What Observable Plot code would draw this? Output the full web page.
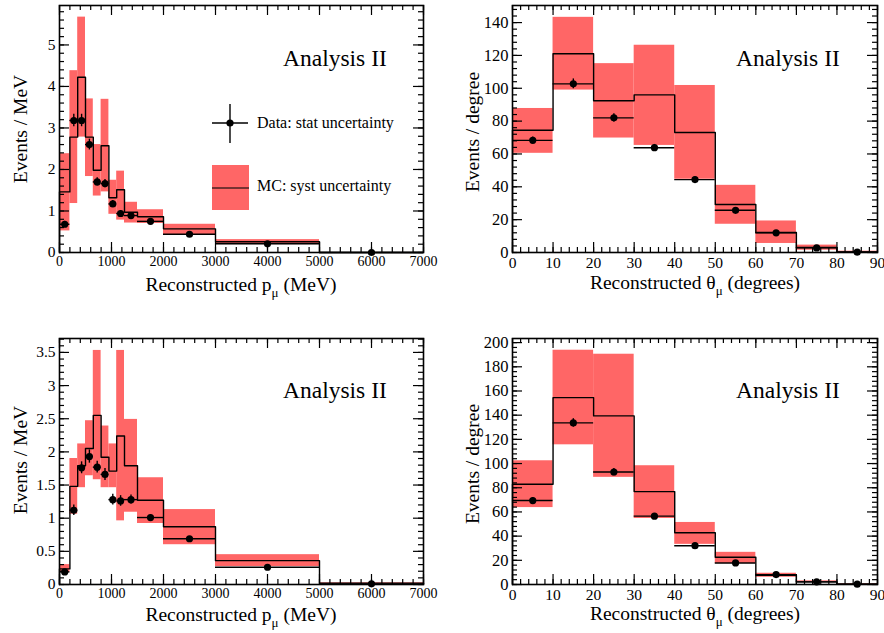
<!DOCTYPE html>
<html><head><meta charset="utf-8">
<script src="https://cdn.jsdelivr.net/npm/d3@7"></script>
<script src="https://cdn.jsdelivr.net/npm/@observablehq/plot@0.6"></script>
<style>
body{margin:0;background:#fff;}
#wrap{position:relative;width:884px;height:633px;font-family:'Liberation Serif','Times New Roman',serif;overflow:hidden;}
#wrap svg, #wrap text, #wrap tspan{font-family:'Liberation Serif','Times New Roman',serif !important;}
.panel{position:absolute;}
#over{position:absolute;left:0;top:0;}
</style></head>
<body><div id="wrap"></div>
<script>
// ---------- data ----------
const pEdges = [0,200,350,500,650,800,950,1100,1250,1500,2000,3000,5000,7000];
const p1MC   = [1.46,2.78,4.22,2.78,1.98,2.57,1.32,1.51,0.97,0.86,0.57,0.26,0];
const p1Lo   = [0.52,1.18,2.78,1.83,1.36,1.46,0.92,0.78,0.71,0.70,0.43,0.19,0];
const p1Hi   = [2.38,4.38,5.67,3.70,2.60,3.69,1.74,1.96,1.21,1.03,0.68,0.31,0];
const p1Data = [0.68,3.18,3.18,2.60,1.70,1.66,1.17,0.94,0.89,0.75,0.44,0.21,0];
const p1Err  = [0.07,0.15,0.15,0.13,0.10,0.10,0.08,0.07,0.05,0.04,0.02,0.01,0.005];

const p2MC   = [0.235,1.48,1.79,2.05,2.55,1.92,1.71,2.24,1.79,1.27,0.87,0.36,0.02];
const p2Lo   = [0.18,1.06,1.46,1.64,1.58,1.46,1.46,0.96,1.09,0.92,0.60,0.27,0.01];
const p2Hi   = [0.30,1.90,2.12,2.47,3.53,2.39,2.12,3.53,2.49,1.61,1.13,0.45,0.025];
const p2Data = [0.19,1.12,1.76,1.93,1.77,1.66,1.28,1.26,1.28,1.01,0.69,0.26,0.01];
const p2Err  = [0.03,0.08,0.09,0.10,0.09,0.09,0.08,0.08,0.07,0.04,0.025,0.01,0.005];

const tEdges = [0,10,20,30,40,50,60,70,80,90];
const t1MC   = [74.4,121,92.4,96,73.1,29.2,12.2,3.0,0.4];
const t1Lo   = [60.4,98.9,69.7,65.2,44.6,17.2,5.5,1.4,0];
const t1Hi   = [87.7,143.2,115,126.2,101.7,40.9,19.2,4.5,0.8];
const t1Data = [68.3,102.7,82,63.8,44.4,25.7,12,2.8,0.2];
const t1Err  = [2,3,2.5,2,1.6,1.2,0.8,0.4,0.1];

const t2MC   = [82.9,154.5,139.4,76.8,42.8,22.5,7.7,2.2,0.3];
const t2Lo   = [63.6,115.5,88.6,54.6,33.2,17.3,6.0,1.6,0];
const t2Hi   = [102.3,193.7,190.4,98.2,51.3,26.6,9.3,3.0,0.6];
const t2Data = [69.4,133.6,93,56.5,32.1,17.8,8.2,2.2,0.3];
const t2Err  = [2.5,3.5,3,2.2,1.7,1.3,0.9,0.5,0.2];

const pXMajor = d3.range(0,7001,1000), pXMinor = d3.range(0,7001,200);
const tXMajor = d3.range(0,91,10),     tXMinor = d3.range(0,91,2);
const p1YMajor = d3.range(0,5.01,1),   p1YMinor = d3.range(0,5.95,0.2);
const p2YMajor = d3.range(0,3.51,0.5), p2YMinor = d3.range(0,3.71,0.1);
const t1YMajor = d3.range(0,141,20),   t1YMinor = d3.range(0,150,4);
const t2YMajor = d3.range(0,201,20),   t2YMinor = d3.range(0,203,4);

const RED = "#ff6666";
const FONT = "'Liberation Serif','Times New Roman',serif";

function panel(o) {
  const bins = o.edges.slice(0,-1).map((e,i)=>({x1:e,x2:o.edges[i+1],xc:(e+o.edges[i+1])/2,
    mc:o.mc[i],lo:o.lo[i],hi:o.hi[i],d:o.data[i],err:o.err[i]}));
  const step = [{x:o.edges[0],y:0}];
  bins.forEach(b=>{step.push({x:b.x1,y:b.mc});step.push({x:b.x2,y:b.mc});});
  step.push({x:o.edges[o.edges.length-1],y:0});
  const W = o.width - o.mL - o.mR, H = o.height - o.mT - o.mB;
  const maj = 10, mnr = 5;
  const chart = Plot.plot({
    width:o.width, height:o.height,
    marginLeft:o.mL, marginRight:o.mR, marginTop:o.mT, marginBottom:o.mB,
    style:{fontFamily:FONT, background:"transparent", color:"black", overflow:"visible"},
    x:{domain:[o.edges[0],o.edges[o.edges.length-1]]},
    y:{domain:[0,o.yMax]},
    marks:[
      Plot.rect(bins,{x1:"x1",x2:"x2",y1:"lo",y2:"hi",fill:RED}),
      Plot.line(step,{x:"x",y:"y",stroke:"black",strokeWidth:1.4}),
      Plot.ruleY(bins,{x1:"x1",x2:"x2",y:"d",stroke:"black",strokeWidth:1.4}),
      Plot.ruleX(bins,{x:"xc",y1:d=>d.d-d.err,y2:d=>d.d+d.err,stroke:"black",strokeWidth:1.4}),
      Plot.dot(bins,{x:"xc",y:"d",r:3.6,fill:"black",stroke:"none"}),
      Plot.tickX(o.xMajor,{x:d=>d,insetTop:H-maj,stroke:"black",strokeWidth:1.2}),
      Plot.tickX(o.xMinor,{x:d=>d,insetTop:H-mnr,stroke:"black",strokeWidth:1.2}),
      Plot.tickX(o.xMajor,{x:d=>d,insetBottom:H-maj,stroke:"black",strokeWidth:1.2}),
      Plot.tickX(o.xMinor,{x:d=>d,insetBottom:H-mnr,stroke:"black",strokeWidth:1.2}),
      Plot.tickY(o.yMajor,{y:d=>d,insetRight:W-maj,stroke:"black",strokeWidth:1.2}),
      Plot.tickY(o.yMinor,{y:d=>d,insetRight:W-mnr,stroke:"black",strokeWidth:1.2}),
      Plot.tickY(o.yMajor,{y:d=>d,insetLeft:W-maj,stroke:"black",strokeWidth:1.2}),
      Plot.tickY(o.yMinor,{y:d=>d,insetLeft:W-mnr,stroke:"black",strokeWidth:1.2}),
      Plot.frame({stroke:"black",strokeWidth:1.6}),
      Plot.axisX({ticks:o.xMajor,tickSize:0,tickPadding:4,fontSize:o.xFont,tickFormat:d=>String(d),label:null}),
      Plot.axisY({ticks:o.yMajor,tickSize:0,tickPadding:4,fontSize:o.yFont,tickFormat:d=>String(+d.toFixed(2)),label:null})
    ]
  });
  chart.classList.add("panel");
  chart.style.left = o.left+"px"; chart.style.top = o.top+"px";
  document.getElementById("wrap").appendChild(chart);
}

panel({left:0,top:0,width:442,height:310,mL:59,mR:19,mT:5,mB:58,edges:pEdges,mc:p1MC,lo:p1Lo,hi:p1Hi,data:p1Data,err:p1Err,
  yMax:5.95,xMajor:pXMajor,xMinor:pXMinor,yMajor:p1YMajor,yMinor:p1YMinor,xFont:14,yFont:15.5});
panel({left:442,top:0,width:442,height:310,mL:70,mR:7,mT:5,mB:58,edges:tEdges,mc:t1MC,lo:t1Lo,hi:t1Hi,data:t1Data,err:t1Err,
  yMax:150.4,xMajor:tXMajor,xMinor:tXMinor,yMajor:t1YMajor,yMinor:t1YMinor,xFont:15.5,yFont:16.5});
panel({left:0,top:310,width:442,height:323,mL:59,mR:19,mT:28,mB:49,edges:pEdges,mc:p2MC,lo:p2Lo,hi:p2Hi,data:p2Data,err:p2Err,
  yMax:3.71,xMajor:pXMajor,xMinor:pXMinor,yMajor:p2YMajor,yMinor:p2YMinor,xFont:14,yFont:15.5});
panel({left:442,top:310,width:442,height:323,mL:70,mR:7,mT:28,mB:49,edges:tEdges,mc:t2MC,lo:t2Lo,hi:t2Hi,data:t2Data,err:t2Err,
  yMax:203.4,xMajor:tXMajor,xMinor:tXMinor,yMajor:t2YMajor,yMinor:t2YMinor,xFont:15.5,yFont:16.5});

// ---------- titles, annotations, legend (overlay) ----------
const NS = "http://www.w3.org/2000/svg";
const svg = document.createElementNS(NS,"svg");
svg.setAttribute("id","over"); svg.setAttribute("width",884); svg.setAttribute("height",633);
document.getElementById("wrap").appendChild(svg);
function el(tag, attrs, parent=svg){const e=document.createElementNS(NS,tag);for(const k in attrs)e.setAttribute(k,attrs[k]);parent.appendChild(e);return e;}
function xTitle(cx, y, sym, unit){
  const t = el("text",{x:cx,y:y,"text-anchor":"middle","font-size":19.5,fill:"black"});
  t.appendChild(document.createTextNode("Reconstructed "+sym));
  const s = el("tspan",{dy:6,"font-size":13},t); s.textContent="μ";
  const r = el("tspan",{dy:-6},t); r.textContent=" ("+unit+")";
}
function yTitle(cx, cy, txt){
  const t = el("text",{x:0,y:0,"text-anchor":"middle","dominant-baseline":"central","font-size":19.5,fill:"black",
    transform:`translate(${cx},${cy}) rotate(-90)`});
  t.textContent = txt;
}
function ann(x,y){const t=el("text",{x,y,"font-size":23.5,fill:"black"});t.textContent="Analysis II";}

xTitle(241,291,"p","MeV"); xTitle(695,289,"θ","degrees");
xTitle(241,621,"p","MeV"); xTitle(695,620,"θ","degrees");
yTitle(20,129,"Events / MeV"); yTitle(472,132,"Events / degree");
yTitle(20,460,"Events / MeV"); yTitle(472,464,"Events / degree");
ann(283,66); ann(736,66); ann(283,398); ann(736,398);

// legend (top-left panel)
el("line",{x1:212,x2:248,y1:123,y2:123,stroke:"black","stroke-width":1.4});
el("line",{x1:230,x2:230,y1:104,y2:143,stroke:"black","stroke-width":1.4});
el("circle",{cx:230,cy:123,r:3.6,fill:"black"});
const lt1 = el("text",{x:257,y:128,"font-size":16,fill:"black"}); lt1.textContent="Data: stat uncertainty";
el("rect",{x:212,y:165,width:37,height:45,fill:RED});
el("line",{x1:212,x2:249,y1:188,y2:188,stroke:"#4a2222","stroke-width":1.4});
const lt2 = el("text",{x:257,y:191,"font-size":16,fill:"black"}); lt2.textContent="MC: syst uncertainty";
</script>
</body></html>
